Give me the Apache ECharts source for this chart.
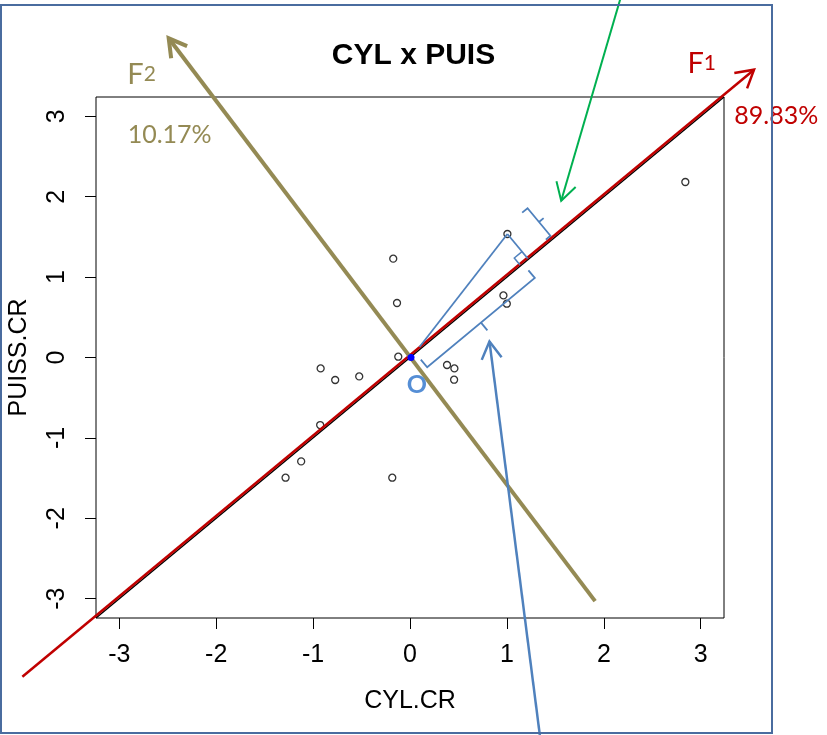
<!DOCTYPE html>
<html>
<head>
<meta charset="utf-8">
<script src="https://cdn.jsdelivr.net/npm/echarts@6/dist/echarts.min.js"></script>
<style>
  html, body { margin: 0; padding: 0; background: #ffffff; }
  #chart { width: 827px; height: 735px; }
</style>
</head>
<body>
<div id="chart"></div>
<script>
// Standardised cylinder capacity (CYL.CR) and power (PUISS.CR), one pair per car
const cylCR  = [-0.173, -0.134, -0.121, -0.922, -0.772, -0.524, 0.382, 0.458, 0.455,
                -0.927, -1.123, -1.284, -0.183, 1.005, 0.964, 0.999, 2.841];
const puisCR = [ 1.229,  0.678,  0.010, -0.136, -0.280, -0.235, -0.093, -0.136, -0.276,
                -0.840, -1.292, -1.495, -1.495, 1.536, 0.772, 0.669, 2.183];
const tickValues = [-3, -2, -1, 0, 1, 2, 3];

// Principal axes and pointers, as segment end points in data units
const diagonal     = [[-3.24, -3.24], [3.24, 3.24]];
const f1Axis       = [[-4.00, -3.97], [3.55, 3.58]];
const f2Axis       = [[1.91, -3.03], [-2.49, 3.97]];
const greenPointer = [[2.18, 4.50], [1.56, 1.95]];
const bluePointer  = [[1.34, -4.70], [0.82, 0.20]];
const origin       = [0, 0];
const projectedCar = 13;            // car whose projection onto F1 is sketched

// Axis names and explained inertia
const f1Name = 'F1', f1Share = '89.83%';
const f2Name = 'F2', f2Share = '10.17%';
const originName = 'O';

const RED = '#c00000', OLIVE = '#948a54', GREEN = '#00b050', BLUE = '#4f81bd';

function seg(a, b, color, width) {
  return { type: 'line', shape: { x1: a[0], y1: a[1], x2: b[0], y2: b[1] },
           style: { stroke: color, lineWidth: width, lineCap: 'butt' } };
}
function poly(pts, color, width) {
  return { type: 'polyline', shape: { points: pts },
           style: { stroke: color, lineWidth: width, fill: null, lineJoin: 'miter' } };
}
// open "V" arrow head at tip, pointing away from tail
function head(tail, tip, color, width) {
  const dx = tip[0] - tail[0], dy = tip[1] - tail[1];
  const L = Math.hypot(dx, dy);
  const vx = -dx / L, vy = -dy / L;
  const len = 20, a = Math.PI / 6, c = Math.cos(a), s = Math.sin(a);
  const p1 = [tip[0] + len * (vx * c - vy * s), tip[1] + len * (vx * s + vy * c)];
  const p2 = [tip[0] + len * (vx * c + vy * s), tip[1] + len * (-vx * s + vy * c)];
  return poly([p1, tip, p2], color, width);
}
function arrow(pair, api, color, width) {
  const a = api.coord(pair[0]), b = api.coord(pair[1]);
  return [seg(a, b, color, width), head(a, b, color, width)];
}
function label(pos, api, style) {
  const p = api.coord(pos);
  return { type: 'text', x: p[0], y: p[1],
           style: Object.assign({ align: 'center', verticalAlign: 'middle',
                                  fontFamily: 'Lato' }, style) };
}

function renderAnnotations(params, api) {
  const O = api.coord(origin);
  const D = api.coord([1, 1]);
  let ux = D[0] - O[0], uy = D[1] - O[1];
  const ul = Math.hypot(ux, uy); ux /= ul; uy /= ul;
  const nx = -uy, ny = ux;
  const at = (s, t) => [O[0] + s * ux + t * nx, O[1] + s * uy + t * ny];

  const P = api.coord([cylCR[projectedCar], puisCR[projectedCar]]);
  const ps = (P[0] - O[0]) * ux + (P[1] - O[1]) * uy;   // length along F1
  const pt = (P[0] - O[0]) * nx + (P[1] - O[1]) * ny;   // signed distance to F1

  const kids = [];
  kids.push(...arrow(f1Axis, api, RED, 2.5));
  kids.push(...arrow(f2Axis, api, OLIVE, 4));
  kids.push(...arrow(greenPointer, api, GREEN, 2));
  kids.push(...arrow(bluePointer, api, BLUE, 2.5));

  // projection of the car onto F1
  kids.push(seg(at(14, -2), P, BLUE, 1.8));
  kids.push(seg(P, at(ps, -1), BLUE, 1.8));
  kids.push(poly([at(ps, -10), at(ps - 10, -10), at(ps - 10, -1)], BLUE, 1.5));

  // brace for the distance to the axis
  const S = ps + 32, t0 = -4, t1 = pt - 7, tm = (t0 + t1) / 2;
  kids.push(poly([at(S - 6, t0), at(S, t0), at(S, t1), at(S - 7, t1)], BLUE, 1.8));
  kids.push(seg(at(S, tm), at(S + 6, tm), BLUE, 1.8));

  // brace for the coordinate along F1
  const s0 = 7, s1 = ps - 7, sm = (s0 + s1) / 2;
  kids.push(poly([at(s0, 8.5), at(s0, 18.5), at(s1, 18.5), at(s1, 8.5)], BLUE, 1.8));
  kids.push(seg(at(sm, 18.5), at(sm, 28.5), BLUE, 1.8));

  // origin
  const o = api.coord(origin);
  kids.push({ type: 'circle', shape: { cx: o[0] + 1, cy: o[1], r: 3.5 }, style: { fill: '#0000ff' } });

  // axis names and shares
  kids.push(label([3.01, 3.66], api, {
    text: '{a|' + f1Name[0] + '}{b|' + f1Name.slice(1) + '}',
    rich: { a: { fontSize: 29, fill: RED, fontFamily: 'Lato' },
            b: { fontSize: 21, fill: RED, fontFamily: 'Lato' } } }));
  kids.push(label([3.78, 3.00], api, { text: f1Share, fontSize: 25, fill: RED }));
  kids.push(label([-2.77, 3.52], api, {
    text: '{a|' + f2Name[0] + '}{b|' + f2Name.slice(1) + '}',
    rich: { a: { fontSize: 29, fill: OLIVE, fontFamily: 'Lato' },
            b: { fontSize: 21, fill: OLIVE, fontFamily: 'Lato' } } }));
  kids.push(label([-2.48, 2.77], api, { text: f2Share, fontSize: 25, fill: OLIVE }));
  kids.push(label([0.07, -0.34], api, { text: originName, fontSize: 25, fontWeight: 'bold', fill: '#558ed5' }));

  return { type: 'group', children: kids };
}

const axisFont = 'Liberation Sans';
const chart = echarts.init(document.getElementById('chart'));
chart.setOption({
  animation: false,
  backgroundColor: '#ffffff',
  title: {
    text: 'CYL x PUIS', left: 'center', top: 41, padding: [0, 5, 0, 0],
    textStyle: { fontFamily: axisFont, fontWeight: 'bold', fontSize: 30, color: '#000' }
  },
  graphic: [{
    type: 'rect', shape: { x: 1, y: 5, width: 771, height: 728 },
    style: { fill: null, stroke: '#4a6c9f', lineWidth: 2 }, z: 100, silent: true
  }],
  grid: { left: 96, right: 103, top: 97, bottom: 117, show: true,
          outerBoundsMode: 'none', containLabel: false,
          borderColor: '#000', borderWidth: 1, backgroundColor: 'transparent' },
  xAxis: {
    type: 'value', min: -3.24, max: 3.24,
    name: 'CYL.CR', nameLocation: 'middle', nameGap: 71,
    nameTextStyle: { fontFamily: axisFont, fontSize: 25, color: '#000' },
    axisLine: { show: false, onZero: false },
    splitLine: { show: false },
    axisTick: { show: true, length: 11, customValues: tickValues, lineStyle: { color: '#000', width: 1 } },
    axisLabel: { customValues: tickValues, fontFamily: axisFont, fontSize: 25, color: '#000', margin: 25 }
  },
  yAxis: {
    type: 'value', min: -3.24, max: 3.24,
    name: 'PUISS.CR', nameLocation: 'middle', nameGap: 64, nameRotate: 90,
    nameTextStyle: { fontFamily: axisFont, fontSize: 25, color: '#000' },
    axisLine: { show: false, onZero: false },
    splitLine: { show: false },
    axisTick: { show: true, length: 11, customValues: tickValues, lineStyle: { color: '#000', width: 1 } },
    axisLabel: { customValues: tickValues, rotate: 90, fontFamily: axisFont, fontSize: 25, color: '#000', margin: 26 }
  },
  series: [
    {
      type: 'scatter', z: 2,
      data: cylCR.map((x, i) => [x, puisCR[i]]),
      symbol: 'circle', symbolSize: 7,
      itemStyle: { color: 'rgba(0,0,0,0)', borderColor: '#000', borderWidth: 1.3 }
    },
    {
      type: 'line', z: 3, data: diagonal, symbol: 'none', clip: true,
      lineStyle: { color: '#000', width: 1.5 }
    },
    {
      type: 'custom', z: 5, coordinateSystem: 'cartesian2d', clip: false, silent: true,
      data: [origin], renderItem: renderAnnotations
    }
  ]
});
</script>
</body>
</html>
